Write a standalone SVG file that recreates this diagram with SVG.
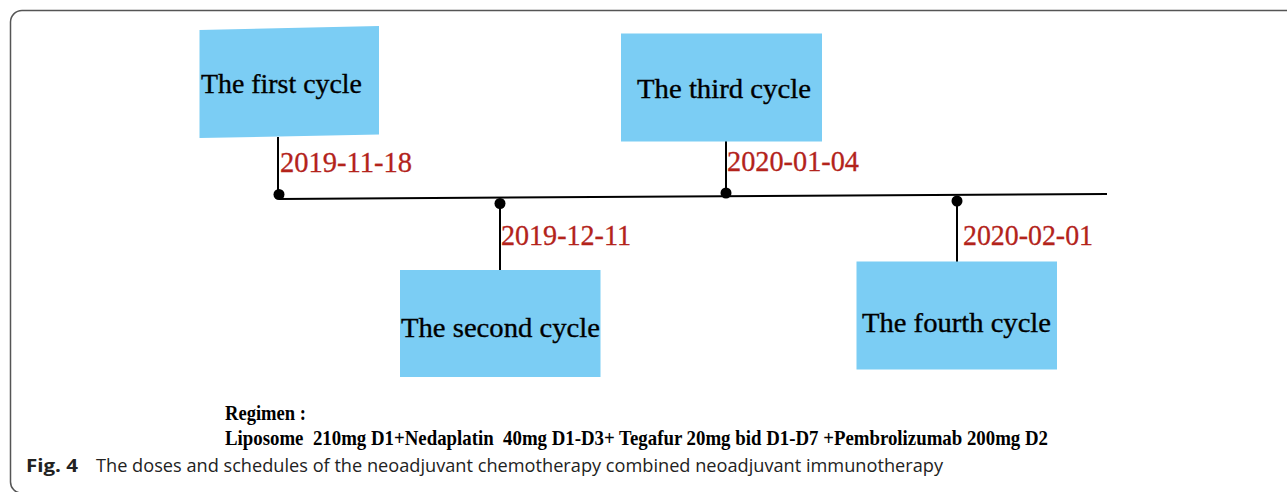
<svg xmlns="http://www.w3.org/2000/svg" width="1287" height="492" viewBox="0 0 1287 492">
<style>
.box{fill:#7bcdf4;}
.lbl{font-family:"Liberation Serif","DejaVu Serif",serif;font-size:27px;fill:#000;stroke:#000;stroke-width:0.35;}
.date{font-family:"Liberation Serif","DejaVu Serif",serif;font-size:29px;fill:#b3231b;stroke:#b3231b;stroke-width:0.3;}
.stem{stroke:#000;stroke-width:2;fill:none;}
.dot{fill:#000;}
.reg{font-family:"Liberation Serif","DejaVu Serif",serif;font-weight:bold;font-size:21px;fill:#000;}
.cap{font-family:"Open Sans","Noto Sans","Liberation Sans",sans-serif;font-size:18px;fill:#222;}
</style>
<rect width="1287" height="492" fill="#fff"/>
<path d="M1290 10.5 H22 A11.5 11.5 0 0 0 10.5 22 V482 A11 11 0 0 0 21.5 493 H1290" fill="none" stroke="#555" stroke-width="1.5"/>
<g id="connectors">
<path class="stem" d="M279 199 L1107 194"/>
<path class="stem" d="M278 137 V194"/>
<path class="stem" d="M500 203 V270"/>
<path class="stem" d="M726 141 V193"/>
<path class="stem" d="M957 201 V262"/>
<circle class="dot" cx="279" cy="194.5" r="5.5"/>
<circle class="dot" cx="500" cy="203.5" r="5.5"/>
<circle class="dot" cx="726" cy="193" r="5.5"/>
<circle class="dot" cx="957" cy="201" r="5.5"/>
</g>
<g id="node1">
<polygon class="box" points="199.5,30 379,26 379,134.5 199.5,138"/>
<text class="lbl" x="201" y="93" textLength="161" lengthAdjust="spacingAndGlyphs">The first cycle</text>
<text class="date" x="280" y="172" textLength="132" lengthAdjust="spacingAndGlyphs">2019-11-18</text>
</g>
<g id="node2">
<rect class="box" x="400" y="270" width="200.5" height="107"/>
<text class="lbl" x="401" y="337" textLength="199" lengthAdjust="spacingAndGlyphs">The second cycle</text>
<text class="date" x="501" y="245" textLength="130" lengthAdjust="spacingAndGlyphs">2019-12-11</text>
</g>
<g id="node3">
<rect class="box" x="621" y="33.5" width="201" height="108"/>
<text class="lbl" x="637" y="98" textLength="174" lengthAdjust="spacingAndGlyphs">The third cycle</text>
<text class="date" x="727" y="171" textLength="132" lengthAdjust="spacingAndGlyphs">2020-01-04</text>
</g>
<g id="node4">
<rect class="box" x="856.5" y="261.5" width="200.5" height="108"/>
<text class="lbl" x="862" y="332" textLength="189" lengthAdjust="spacingAndGlyphs">The fourth cycle</text>
<text class="date" x="963" y="245" textLength="130" lengthAdjust="spacingAndGlyphs">2020-02-01</text>
</g>
<g id="regimen">
<text class="reg" x="225" y="420" textLength="81" lengthAdjust="spacingAndGlyphs">Regimen :</text>
<text class="reg" x="225" y="445" textLength="823" lengthAdjust="spacingAndGlyphs" xml:space="preserve">Liposome  210mg D1+Nedaplatin  40mg D1-D3+ Tegafur 20mg bid D1-D7 +Pembrolizumab 200mg D2</text>
</g>
<g id="caption">
<text class="cap" x="26" y="472" font-size="20" font-weight="bold" fill="#111" textLength="52" lengthAdjust="spacingAndGlyphs">Fig. 4</text>
<text class="cap" x="96" y="472" textLength="847" lengthAdjust="spacingAndGlyphs">The doses and schedules of the neoadjuvant chemotherapy combined neoadjuvant immunotherapy</text>
</g>
</svg>
